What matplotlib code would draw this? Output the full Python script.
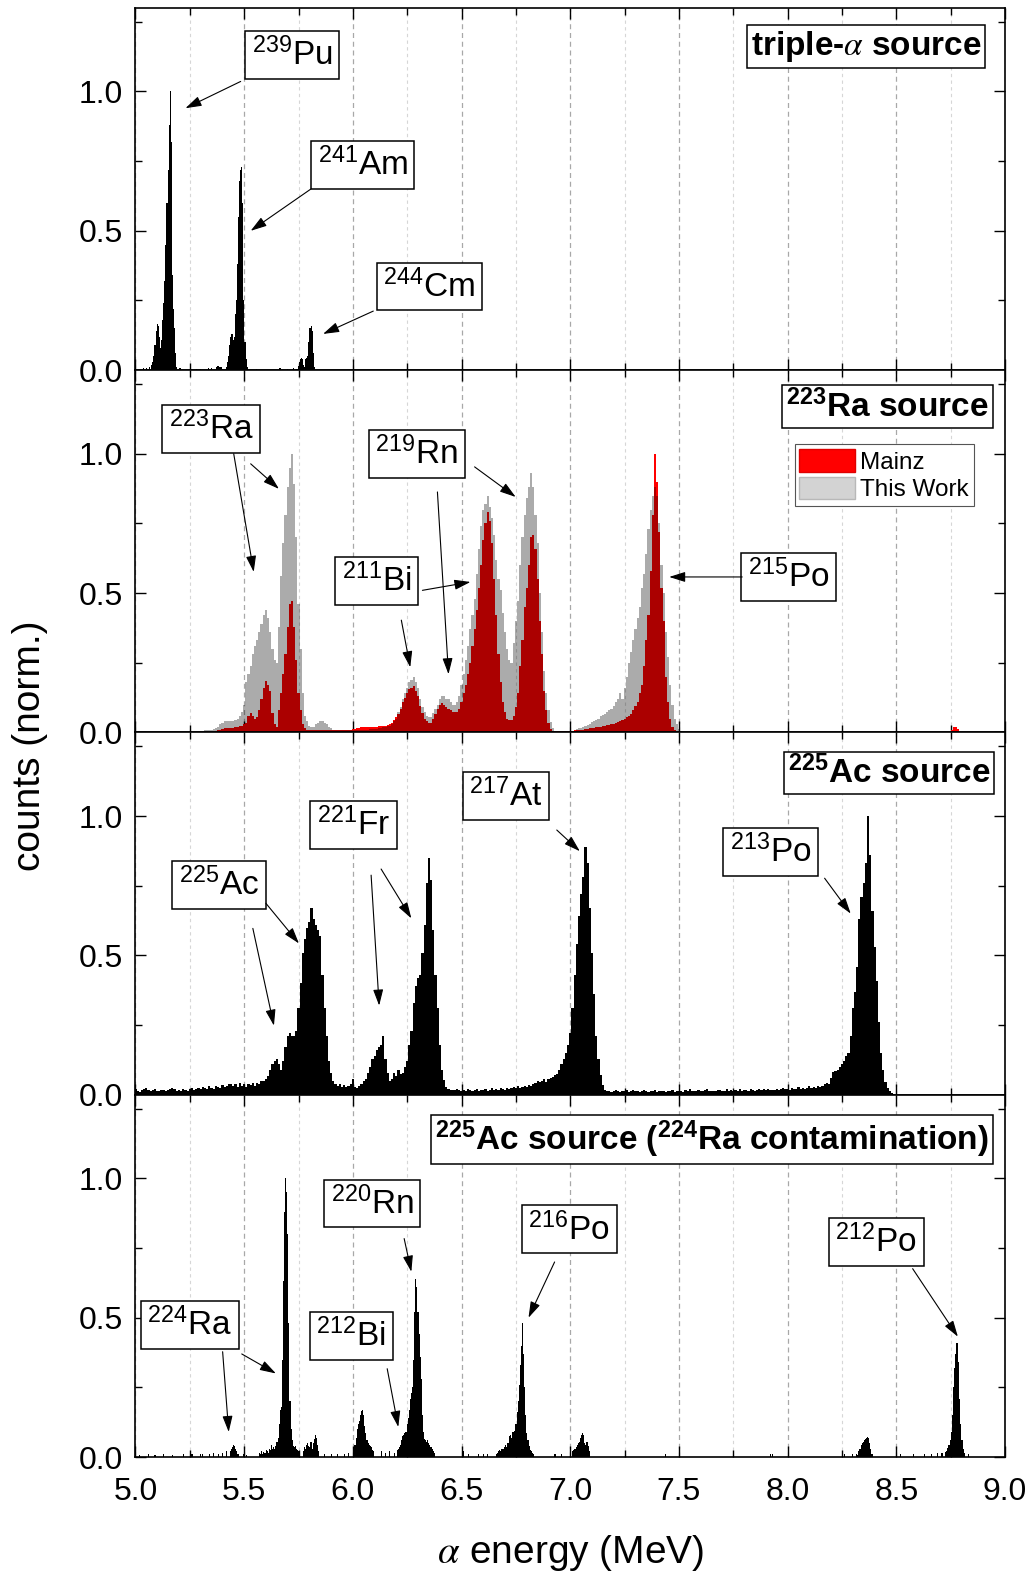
import numpy as np
import matplotlib
matplotlib.use("Agg")
import matplotlib.pyplot as plt
from matplotlib.patches import Patch
from matplotlib.ticker import MultipleLocator, FormatStrFormatter

plt.rcParams['font.family'] = ['Liberation Sans', 'DejaVu Sans']
plt.rcParams['mathtext.fontset'] = 'stix'

# ---------------- data (normalised counts) ----------------
fine_bin = 0.005     # MeV, triple-alpha and 224Ra panels
coarse_bin = 0.01    # MeV, 223Ra and 225Ac panels

# triple-alpha source
pu239_start = 5.0725
pu239_counts = [0.02, 0.03, 0.05, 0.09, 0.14, 0.165, 0.16, 0.12, 0.08, 0.11,
                0.18, 0.24, 0.32, 0.45, 0.6, 0.72, 0.88, 1.0, 0.82, 0.34,
                0.22, 0.15, 0.06, 0.01]
am241_start = 5.3715
am241_counts = [0.01, 0.015, 0.015, 0.01, 0.01, 0.005, 0, 0, 0.005, 0.01,
                0.03, 0.05, 0.09, 0.12, 0.13, 0.11, 0.12, 0.2, 0.25, 0.38,
                0.55, 0.68, 0.72, 0.73, 0.6, 0.25, 0.1, 0.04, 0.01]
cm244_start = 5.7405
cm244_counts = [0.005, 0.015, 0.03, 0.04, 0.045, 0.04, 0.02, 0.01, 0.04, 0.045,
                0.05, 0.1, 0.15, 0.16, 0.14, 0.06, 0.01]
triple_noise_e = [5.035, 5.05, 5.065, 5.205, 5.28, 5.30, 5.335, 5.35, 5.555, 5.665, 5.70, 5.725]
triple_noise_h = [0.006, 0.006, 0.01, 0.006, 0.005, 0.005, 0.006, 0.008, 0.005, 0.006, 0.004, 0.008]

# 223Ra source
ra223_start = 5.295
ra223_this_work = [
    0.005, 0.005, 0.008, 0.008, 0.01, 0.01, 0.012, 0.015, 0.02, 0.03,
    0.035, 0.04, 0.042, 0.04, 0.04, 0.042, 0.045, 0.05, 0.06, 0.075,
    0.1, 0.18, 0.21, 0.24, 0.28, 0.31, 0.33, 0.36, 0.39, 0.42,
    0.44, 0.41, 0.36, 0.30, 0.26, 0.25, 0.38, 0.56, 0.68, 0.78,
    0.88, 0.95, 1.0, 0.89, 0.70, 0.46, 0.30, 0.14, 0.06, 0.04,
    0.025, 0.02, 0.02, 0.03, 0.035, 0.04, 0.04, 0.035, 0.03, 0.02,
    0.015, 0.01, 0.008, 0.008, 0.008, 0.008, 0.008, 0.008, 0.008, 0.008,
    0.01, 0.01, 0.01, 0.01, 0.01, 0.01, 0.01, 0.01, 0.012, 0.012,
    0.012, 0.013, 0.015, 0.016, 0.018, 0.02, 0.022, 0.025, 0.03, 0.04,
    0.05, 0.075, 0.09, 0.12, 0.14, 0.16, 0.18, 0.19, 0.20, 0.18,
    0.16, 0.12, 0.09, 0.075, 0.06, 0.055, 0.055, 0.07, 0.085, 0.10,
    0.12, 0.13, 0.13, 0.12, 0.12, 0.11, 0.10, 0.10, 0.11, 0.13,
    0.17, 0.21, 0.26, 0.31, 0.37, 0.42, 0.48, 0.57, 0.66, 0.74,
    0.80, 0.82, 0.85, 0.81, 0.77, 0.71, 0.62, 0.55, 0.51, 0.43,
    0.36, 0.30, 0.26, 0.25, 0.32, 0.40, 0.47, 0.60, 0.70, 0.78,
    0.84, 0.88, 0.93, 0.88, 0.78, 0.68, 0.50, 0.36, 0.22, 0.14,
    0.08, 0.036, 0.015, 0.004, 0.002, 0.002, 0.002, 0.002, 0.002, 0.002,
    0.003, 0.004, 0.006, 0.012, 0.015, 0.017, 0.02, 0.025, 0.028, 0.03,
    0.038, 0.04, 0.045, 0.05, 0.06, 0.063, 0.068, 0.072, 0.08, 0.085,
    0.096, 0.11, 0.12, 0.14, 0.12, 0.16, 0.20, 0.25, 0.29, 0.33,
    0.37, 0.41, 0.45, 0.52, 0.57, 0.64, 0.73, 0.80, 0.85, 0.88,
    0.85, 0.75, 0.60, 0.50, 0.36, 0.27, 0.17, 0.10, 0.05, 0.03,
    0.012, 0.005, 0.002]
ra223_mainz = [
    0.003, 0.003, 0.003, 0.003, 0.003, 0.003, 0.003, 0.005, 0.008, 0.01,
    0.012, 0.015, 0.015, 0.015, 0.015, 0.015, 0.018, 0.02, 0.022, 0.025,
    0.03, 0.035, 0.06, 0.07, 0.06, 0.05, 0.055, 0.08, 0.12, 0.16,
    0.185, 0.17, 0.15, 0.07, 0.03, 0.018, 0.08, 0.14, 0.21, 0.28,
    0.38, 0.46, 0.47, 0.38, 0.26, 0.14, 0.08, 0.03, 0.015, 0.008,
    0.008, 0.008, 0.008, 0.008, 0.008, 0.01, 0.01, 0.01, 0.01, 0.008,
    0.008, 0.008, 0.008, 0.008, 0.01, 0.01, 0.01, 0.01, 0.01, 0.01,
    0.012, 0.014, 0.015, 0.016, 0.018, 0.018, 0.02, 0.02, 0.018, 0.02,
    0.02, 0.02, 0.022, 0.022, 0.025, 0.025, 0.028, 0.03, 0.035, 0.045,
    0.055, 0.068, 0.085, 0.11, 0.125, 0.14, 0.155, 0.16, 0.165, 0.15,
    0.13, 0.095, 0.07, 0.05, 0.04, 0.035, 0.035, 0.05, 0.066, 0.085,
    0.10, 0.105, 0.10, 0.09, 0.085, 0.08, 0.075, 0.072, 0.075, 0.085,
    0.11, 0.14, 0.17, 0.21, 0.25, 0.31, 0.37, 0.44, 0.52, 0.60,
    0.69, 0.75, 0.79, 0.76, 0.68, 0.55, 0.42, 0.28, 0.18, 0.11,
    0.075, 0.05, 0.045, 0.045, 0.06, 0.09, 0.14, 0.24, 0.33, 0.45,
    0.52, 0.60, 0.70, 0.71, 0.66, 0.55, 0.40, 0.28, 0.15, 0.08,
    0.035, 0.012, 0.006, 0.006, 0.006, 0.006, 0.006, 0.006, 0.006, 0.006,
    0.006, 0.006, 0.008, 0.01, 0.01, 0.01, 0.01, 0.012, 0.013, 0.015,
    0.016, 0.017, 0.018, 0.018, 0.02, 0.022, 0.024, 0.026, 0.028, 0.03,
    0.032, 0.035, 0.038, 0.042, 0.045, 0.048, 0.055, 0.06, 0.065, 0.08,
    0.095, 0.11, 0.14, 0.17, 0.24, 0.33, 0.42, 0.58, 0.78, 1.0,
    0.90, 0.72, 0.52, 0.40, 0.20, 0.11, 0.05, 0.02, 0.01, 0.003,
    0.003, 0.003, 0.003]
mainz_tail_start = 8.75
mainz_tail = [0.008, 0.018, 0.02, 0.012]

# 225Ac source
ac225_start = 4.995
ac225_counts = [
    0.02, 0.012, 0.01, 0.018, 0.022, 0.025, 0.018, 0.015, 0.018, 0.022,
    0.014, 0.012, 0.016, 0.018, 0.012, 0.016, 0.02, 0.024, 0.022, 0.015,
    0.018, 0.012, 0.02, 0.018, 0.015, 0.02, 0.024, 0.018, 0.022, 0.026,
    0.02, 0.028, 0.024, 0.022, 0.03, 0.026, 0.02, 0.033, 0.028, 0.024,
    0.036, 0.028, 0.032, 0.038, 0.038, 0.033, 0.038, 0.028, 0.043, 0.033,
    0.038, 0.028, 0.038, 0.036, 0.043, 0.033, 0.043, 0.038, 0.048, 0.048,
    0.058, 0.068, 0.088, 0.11, 0.12, 0.13, 0.11, 0.09, 0.12, 0.17,
    0.21, 0.22, 0.21, 0.21, 0.23, 0.31, 0.40, 0.51, 0.56, 0.60,
    0.62, 0.67, 0.63, 0.61, 0.59, 0.57, 0.43, 0.31, 0.21, 0.12,
    0.078, 0.048, 0.038, 0.033, 0.038, 0.028, 0.036, 0.028, 0.033, 0.038,
    0.058, 0.028, 0.023, 0.033, 0.038, 0.048, 0.058, 0.078, 0.098, 0.13,
    0.14, 0.16, 0.17, 0.18, 0.21, 0.13, 0.078, 0.048, 0.058, 0.078,
    0.068, 0.088, 0.073, 0.078, 0.098, 0.12, 0.18, 0.23, 0.33, 0.39,
    0.42, 0.43, 0.51, 0.61, 0.76, 0.85, 0.77, 0.59, 0.43, 0.31,
    0.18, 0.088, 0.053, 0.028, 0.02, 0.018, 0.016, 0.018, 0.02, 0.016,
    0.014, 0.018, 0.012, 0.02, 0.016, 0.013, 0.018, 0.022, 0.014, 0.018,
    0.016, 0.02, 0.014, 0.018, 0.023, 0.016, 0.02, 0.018, 0.026, 0.02,
    0.018, 0.024, 0.02, 0.026, 0.028, 0.023, 0.03, 0.026, 0.028, 0.033,
    0.028, 0.036, 0.033, 0.038, 0.043, 0.048, 0.045, 0.05, 0.055, 0.045,
    0.055, 0.06, 0.065, 0.07, 0.075, 0.09, 0.11, 0.13, 0.15, 0.18,
    0.22, 0.31, 0.43, 0.54, 0.64, 0.72, 0.78, 0.89, 0.83, 0.67,
    0.51, 0.36, 0.21, 0.13, 0.07, 0.035, 0.018, 0.012, 0.015, 0.01,
    0.014, 0.018, 0.012, 0.01, 0.015, 0.012, 0.016, 0.01, 0.014, 0.018,
    0.012, 0.015, 0.01, 0.013, 0.016, 0.012, 0.01, 0.014, 0.012, 0.016,
    0.01, 0.013, 0.015, 0.012, 0.01, 0.014, 0.012, 0.016, 0.011, 0.012,
    0.015, 0.013, 0.011, 0.016, 0.014, 0.02, 0.012, 0.015, 0.013, 0.017,
    0.014, 0.012, 0.016, 0.019, 0.013, 0.015, 0.012, 0.014, 0.018, 0.016,
    0.013, 0.015, 0.02, 0.014, 0.016, 0.013, 0.017, 0.015, 0.019, 0.014,
    0.016, 0.018, 0.015, 0.02, 0.017, 0.014, 0.018, 0.022, 0.016, 0.019,
    0.017, 0.02, 0.018, 0.016, 0.018, 0.02, 0.017, 0.022, 0.026, 0.019,
    0.021, 0.018, 0.024, 0.02, 0.022, 0.028, 0.021, 0.025, 0.022, 0.026,
    0.03, 0.024, 0.027, 0.025, 0.03, 0.028, 0.033, 0.038, 0.043, 0.04,
    0.06, 0.08, 0.085, 0.09, 0.1, 0.11, 0.12, 0.14, 0.15, 0.21,
    0.31, 0.37, 0.46, 0.63, 0.71, 0.76, 0.83, 1.0, 0.86, 0.66,
    0.53, 0.41, 0.26, 0.15, 0.09, 0.045, 0.025, 0.015, 0.008, 0.004,
    0.0]

# 225Ac source, 224Ra contamination
ra224_minor_start = 5.434
ra224_minor = [0.02, 0.03, 0.035, 0.043, 0.04, 0.03, 0.02, 0.012]
ra224_start = 5.5685
ra224 = [0.015, 0.01, 0.02, 0.012, 0.018, 0.015, 0.025, 0.02, 0.015, 0.03,
         0.025, 0.045, 0.03, 0.035, 0.03, 0.04, 0.055, 0.07, 0.12, 0.17,
         0.18, 0.35, 0.63, 0.88, 1.0, 0.95, 0.8, 0.48, 0.2, 0.1,
         0.06, 0.04, 0.035, 0.04, 0.03, 0.025, 0.02, 0.015]
bump580_start = 5.770
bump580 = [0.02, 0.035, 0.03, 0.045, 0.05, 0.04, 0.035, 0.055, 0.03, 0.05,
           0.065, 0.08, 0.07, 0.045, 0.02]
bi212_start = 6.0025
bi212 = [0.03, 0.045, 0.07, 0.1, 0.12, 0.13, 0.15, 0.165, 0.17, 0.15,
         0.11, 0.085, 0.06, 0.05, 0.045, 0.04, 0.035, 0.025, 0.02]
rn220_start = 6.202
rn220 = [0.025, 0.03, 0.035, 0.045, 0.06, 0.075, 0.08, 0.085, 0.09, 0.12,
         0.14, 0.17, 0.21, 0.23, 0.25, 0.35, 0.52, 0.64, 0.61, 0.52,
         0.44, 0.36, 0.28, 0.15, 0.09, 0.065, 0.06, 0.055, 0.06, 0.05,
         0.045, 0.037, 0.03, 0.022, 0.015]
po216_start = 6.658
po216 = [0.012, 0.015, 0.02, 0.025, 0.02, 0.03, 0.03, 0.035, 0.045, 0.035,
         0.05, 0.05, 0.075, 0.08, 0.07, 0.09, 0.09, 0.095, 0.12, 0.16,
         0.2, 0.26, 0.33, 0.4, 0.48, 0.37, 0.25, 0.15, 0.085, 0.06,
         0.04, 0.025, 0.02, 0.015, 0.01]
bump706_start = 7.0095
bump706 = [0.02, 0.025, 0.03, 0.035, 0.045, 0.05, 0.055, 0.07, 0.08, 0.085,
           0.08, 0.05, 0.045, 0.055, 0.04, 0.02]
bump837_start = 8.3155
bump837 = [0.012, 0.008, 0.02, 0.03, 0.045, 0.05, 0.055, 0.06, 0.065, 0.07,
           0.072, 0.07, 0.05, 0.03, 0.012]
po212_start = 8.7245
po212 = [0.018, 0.023, 0.033, 0.045, 0.06, 0.09, 0.15, 0.25, 0.32, 0.37,
         0.41, 0.41, 0.34, 0.21, 0.12, 0.06, 0.03, 0.015]
contam_noise_e = [5.02, 5.06, 5.09, 5.13, 5.17, 5.22, 5.26, 5.30, 5.31, 5.34,
                  5.36, 5.38, 5.40, 5.42, 5.495, 5.51, 5.87, 5.90, 5.93, 5.96,
                  5.98, 6.13, 6.15, 6.17, 6.19, 6.51, 6.53, 6.58, 6.60, 6.62,
                  6.93, 6.96, 7.44, 7.92, 7.93, 8.26, 8.30, 8.52, 8.58, 8.63,
                  8.66, 8.69, 8.71, 8.83]
contam_noise_h = [0.008, 0.01, 0.008, 0.012, 0.008, 0.01, 0.012, 0.01, 0.012, 0.01,
                  0.015, 0.012, 0.015, 0.02, 0.01, 0.008, 0.01, 0.012, 0.01, 0.012,
                  0.015, 0.02, 0.015, 0.02, 0.015, 0.02, 0.012, 0.01, 0.012, 0.01,
                  0.012, 0.01, 0.012, 0.01, 0.012, 0.01, 0.012, 0.01, 0.012, 0.012,
                  0.012, 0.015, 0.015, 0.01]

x_ticks = [5.0, 5.5, 6.0, 6.5, 7.0, 7.5, 8.0, 8.5, 9.0]
y_ticks = [0.0, 0.5, 1.0]


# ---------------- helpers ----------------
def hist(ax, start, counts, width, **kw):
    edges = start + width * np.arange(len(counts) + 1)
    ax.stairs(counts, edges, fill=True, linewidth=0, **kw)


def iso_label(ax, text, xy, arrows):
    ax.text(xy[0], xy[1], text, ha='center', va='center', fontsize=24, zorder=6,
            bbox=dict(boxstyle='square,pad=0.2', fc='white', ec='black', lw=1.1))
    for tail, head in arrows:
        ax.annotate('', xy=head, xytext=tail, zorder=6,
                    arrowprops=dict(arrowstyle='-|>,head_length=0.7,head_width=0.22',
                                    color='black', lw=0.8, mutation_scale=14,
                                    shrinkA=0, shrinkB=0))


def panel_title(ax, text, xy):
    ax.text(xy[0], xy[1], text, ha='center', va='center', fontsize=24,
            fontweight='bold', zorder=6,
            bbox=dict(boxstyle='square,pad=0.12', fc='white', ec='black', lw=1.1))


fig, axes = plt.subplots(4, 1, sharex=True, figsize=(10.34, 15.73), dpi=100)
fig.subplots_adjust(left=0.131, right=0.972, top=0.995, bottom=0.0737, hspace=0)

for ax in axes:
    ax.set_xlim(5.0, 9.0)
    ax.set_ylim(0, 1.3)
    ax.set_axisbelow(True)
    ax.xaxis.set_minor_locator(MultipleLocator(0.25))
    ax.yaxis.set_minor_locator(MultipleLocator(0.25))
    ax.set_yticks(y_ticks)
    ax.yaxis.set_major_formatter(FormatStrFormatter('%.1f'))
    ax.grid(axis='x', which='major', color='#a8a8a8', ls=(0, (4, 3)), lw=0.9)
    ax.grid(axis='x', which='minor', color='#d6d6d6', ls=(0, (3, 3)), lw=0.8)
    ax.tick_params(which='both', direction='in', top=True, right=True,
                   labelsize=23, width=1.0)
    ax.tick_params(which='major', length=8, pad=9)
    ax.tick_params(which='minor', length=5)
    ax.tick_params(axis='x', which='major', pad=14)
    for sp in ax.spines.values():
        sp.set_linewidth(1.2)

axes[-1].set_xticks(x_ticks)
axes[-1].xaxis.set_major_formatter(FormatStrFormatter('%.1f'))

# panel 1: triple-alpha
ax = axes[0]
hist(ax, pu239_start, pu239_counts, fine_bin, color='black')
hist(ax, am241_start, am241_counts, fine_bin, color='black')
hist(ax, cm244_start, cm244_counts, fine_bin, color='black')
ax.bar(triple_noise_e, triple_noise_h, width=fine_bin, color='black', linewidth=0)
panel_title(ax, r'triple-$\alpha$ source', (8.36, 1.16))
iso_label(ax, r'$\mathregular{^{239}}$Pu', (5.72, 1.13), [((5.484, 1.036), (5.23, 0.94))])
iso_label(ax, r'$\mathregular{^{241}}$Am', (6.045, 0.735), [((5.807, 0.65), (5.53, 0.50))])
iso_label(ax, r'$\mathregular{^{244}}$Cm', (6.352, 0.30), [((6.094, 0.212), (5.863, 0.13))])

# panel 2: 223Ra
ax = axes[1]
hist(ax, ra223_start, ra223_mainz, coarse_bin, color='#ff0000')
hist(ax, mainz_tail_start, mainz_tail, coarse_bin, color='#ff0000')
hist(ax, ra223_start, ra223_this_work, coarse_bin, color='black', alpha=0.33)
panel_title(ax, r'$\mathregular{^{223}}$Ra source', (8.46, 1.17))
iso_label(ax, r'$\mathregular{^{223}}$Ra', (5.348, 1.09),
          [((5.452, 1.0), (5.544, 0.576)), ((5.53, 0.964), (5.66, 0.874))])
iso_label(ax, r'$\mathregular{^{219}}$Rn', (6.294, 1.0),
          [((6.389, 0.863), (6.44, 0.209)), ((6.56, 0.953), (6.749, 0.845))])
iso_label(ax, r'$\mathregular{^{211}}$Bi', (6.11, 0.543),
          [((6.223, 0.403), (6.264, 0.234)), ((6.32, 0.51), (6.541, 0.54))])
iso_label(ax, r'$\mathregular{^{215}}$Po', (8.006, 0.559), [((7.791, 0.558), (7.455, 0.558))])
handles = [Patch(fc='#ff0000', ec='#e00000', label='Mainz'),
           Patch(fc='#d3d3d3', ec='#b8b8b8', label='This Work')]
leg = ax.legend(handles=handles, loc='upper right', bbox_to_anchor=(0.964, 0.795),
                fontsize=17.5, frameon=True, fancybox=False, edgecolor='#555555',
                framealpha=1, borderpad=0.2, labelspacing=0.12, handlelength=2.3,
                handleheight=1.05, handletextpad=0.2, borderaxespad=0)
leg.get_frame().set_linewidth(0.8)

# panel 3: 225Ac
ax = axes[2]
hist(ax, ac225_start, ac225_counts, coarse_bin, color='black')
panel_title(ax, r'$\mathregular{^{225}}$Ac source', (8.467, 1.154))
iso_label(ax, r'$\mathregular{^{225}}$Ac', (5.383, 0.752),
          [((5.54, 0.597), (5.637, 0.248)), ((5.60, 0.687), (5.752, 0.543))])
iso_label(ax, r'$\mathregular{^{221}}$Fr', (6.003, 0.968),
          [((6.084, 0.788), (6.121, 0.32)), ((6.13, 0.81), (6.269, 0.633))])
iso_label(ax, r'$\mathregular{^{217}}$At', (6.704, 1.072), [((6.938, 0.95), (7.044, 0.874))])
iso_label(ax, r'$\mathregular{^{213}}$Po', (7.923, 0.87), [((8.17, 0.777), (8.29, 0.65))])

# panel 4: 224Ra contamination
ax = axes[3]
for start, counts in [(ra224_minor_start, ra224_minor), (ra224_start, ra224),
                      (bump580_start, bump580), (bi212_start, bi212),
                      (rn220_start, rn220), (po216_start, po216),
                      (bump706_start, bump706), (bump837_start, bump837),
                      (po212_start, po212)]:
    hist(ax, start, counts, fine_bin, color='black')
ax.bar(contam_noise_e, contam_noise_h, width=fine_bin, color='black', linewidth=0)
panel_title(ax, r'$\mathregular{^{225}}$Ac source ($\mathregular{^{224}}$Ra contamination)',
            (7.651, 1.14))
iso_label(ax, r'$\mathregular{^{224}}$Ra', (5.249, 0.473),
          [((5.401, 0.378), (5.429, 0.09)), ((5.489, 0.37), (5.646, 0.30))])
iso_label(ax, r'$\mathregular{^{212}}$Bi', (5.992, 0.435), [((6.158, 0.317), (6.209, 0.108))])
iso_label(ax, r'$\mathregular{^{220}}$Rn', (6.089, 0.91), [((6.236, 0.784), (6.269, 0.665))])
iso_label(ax, r'$\mathregular{^{216}}$Po', (6.995, 0.817), [((6.928, 0.70), (6.808, 0.50))])
iso_label(ax, r'$\mathregular{^{212}}$Po', (8.407, 0.773), [((8.575, 0.676), (8.783, 0.432))])

fig.text(0.029, 0.526, 'counts (norm.)', rotation=90, ha='center', va='center', fontsize=28)
fig.text(0.5515, 0.013, r'$\alpha$ energy (MeV)', ha='center', va='center', fontsize=28)

fig.savefig('out.png', dpi=100)
